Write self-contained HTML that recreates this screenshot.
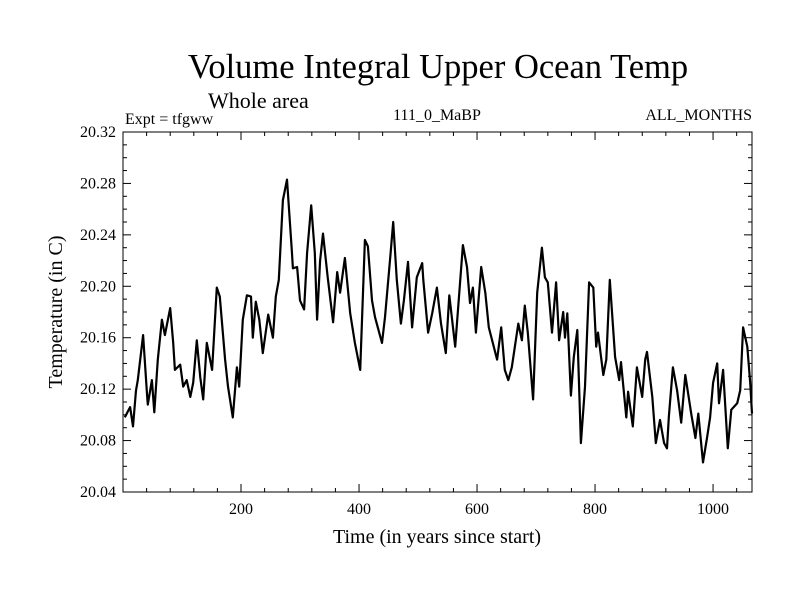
<!DOCTYPE html>
<html><head><meta charset="utf-8"><style>
body{margin:0;background:#fff;}
svg{display:block;font-family:"Liberation Serif",serif;}
</style></head><body>
<svg id="chart" width="800" height="600">
<text x="438" y="78" font-size="34.5" text-anchor="middle">Volume Integral Upper Ocean Temp</text>
<text x="208" y="108" font-size="22">Whole area</text>
<text x="125" y="124" font-size="16">Expt = tfgww</text>
<text x="437" y="120" font-size="16" text-anchor="middle">111_0_MaBP</text>
<text x="752" y="120" font-size="16" text-anchor="end">ALL_MONTHS</text>
<text x="437" y="543" font-size="20" text-anchor="middle">Time (in years since start)</text>
<text transform="translate(62,312) rotate(-90)" font-size="20" text-anchor="middle">Temperature (in C)</text>
<rect x="123" y="132" width="629" height="360" fill="none" stroke="#000" stroke-width="1"/>
<g id="ticks"></g>
<g id="series"></g>
</svg>
<script>
const years=[3,12,17,22,25,34,41,42,49,53,59,66,71,80,85,88,97,102,108,114,119,125,131,136,142,151,159,164,173,178,186,193,197,203,210,217,220,225,231,237,246,254,259,264,271,278,286,288,295,300,307,312,319,325,329,334,339,347,356,363,368,376,385,393,402,410,415,422,427,439,444,453,458,464,471,476,483,490,498,507,509,517,524,532,539,547,553,563,576,583,588,593,598,607,614,620,634,641,647,653,659,670,676,681,686,695,702,710,715,720,727,734,739,746,749,753,759,764,770,776,783,790,797,802,805,814,819,825,834,841,844,853,856,864,871,880,885,888,897,903,910,917,922,925,932,939,946,953,963,970,975,983,990,995,1000,1007,1010,1017,1025,1031,1041,1046,1051,1058,1063,1066];
const temps=[20.098,20.106,20.091,20.119,20.127,20.162,20.114,20.108,20.127,20.102,20.143,20.174,20.162,20.183,20.156,20.135,20.139,20.122,20.127,20.114,20.125,20.158,20.129,20.112,20.156,20.135,20.199,20.192,20.143,20.122,20.098,20.137,20.122,20.174,20.193,20.192,20.160,20.188,20.174,20.148,20.178,20.160,20.192,20.205,20.267,20.283,20.228,20.214,20.215,20.189,20.182,20.226,20.263,20.226,20.174,20.220,20.241,20.207,20.172,20.211,20.195,20.222,20.179,20.156,20.135,20.236,20.231,20.189,20.176,20.156,20.176,20.223,20.250,20.205,20.171,20.189,20.219,20.168,20.207,20.218,20.205,20.164,20.179,20.199,20.171,20.148,20.193,20.153,20.232,20.215,20.187,20.199,20.164,20.215,20.195,20.168,20.143,20.168,20.135,20.127,20.137,20.171,20.158,20.185,20.164,20.112,20.195,20.230,20.207,20.203,20.164,20.203,20.158,20.180,20.160,20.179,20.115,20.145,20.166,20.078,20.122,20.203,20.199,20.153,20.164,20.131,20.143,20.205,20.145,20.127,20.141,20.098,20.118,20.091,20.137,20.114,20.143,20.149,20.114,20.078,20.096,20.078,20.074,20.098,20.137,20.119,20.094,20.131,20.101,20.082,20.101,20.063,20.083,20.098,20.125,20.140,20.109,20.135,20.074,20.104,20.109,20.119,20.168,20.153,20.125,20.101];
const xTicks=[200,400,600,800,1000];
const yTicks=[20.04,20.08,20.12,20.16,20.20,20.24,20.28,20.32];
const X0=123,X1=752,Y0=492,Y1=132,XMAX=1066,YMIN=20.04,YMAX=20.32;
const xs=v=>X0+(v/XMAX)*(X1-X0);
const ys=v=>Y0-(v-YMIN)/(YMAX-YMIN)*(Y0-Y1);
const NS="http://www.w3.org/2000/svg";
const tg=document.getElementById('ticks');
function ln(x1,y1,x2,y2,name){const l=document.createElementNS(NS,'line');l.setAttribute('x1',x1);l.setAttribute('y1',y1);l.setAttribute('x2',x2);l.setAttribute('y2',y2);l.setAttribute('stroke','#000');


tg.appendChild(l);}
function tx(x,y,s,anchor,name){const t=document.createElementNS(NS,'text');t.setAttribute('x',x);t.setAttribute('y',y);t.setAttribute('font-size','16');t.setAttribute('text-anchor',anchor);t.textContent=s;


tg.appendChild(t);}
for(let v=40;v<XMAX;v+=40){const x=xs(v);const major=v%200===0;const L=major?8:4;ln(x,Y0,x,Y0-L,'x-tick');ln(x,Y1,x,Y1+L,'x-tick-top');}
xTicks.forEach(v=>tx(xs(v),514,String(v),'middle','x-tick-label'));
for(let i=0;i<=28;i++){const v=YMIN+i*0.01;const y=ys(v);const major=i%4===0;const L=major?8:4;ln(X0,y,X0+L,y,'y-tick');ln(X1,y,X1-L,y,'y-tick-right');}
yTicks.forEach(v=>tx(116,ys(v)+5,v.toFixed(2),'end','y-tick-label'));
const p=document.createElementNS(NS,'polyline');
p.setAttribute('points',years.map((y,i)=>xs(y).toFixed(1)+','+ys(temps[i]).toFixed(1)).join(' '));
p.setAttribute('fill','none');p.setAttribute('stroke','#000');p.setAttribute('stroke-width','2.2');p.setAttribute('stroke-linejoin','round');


document.getElementById('series').appendChild(p);
</script>
</body></html>
